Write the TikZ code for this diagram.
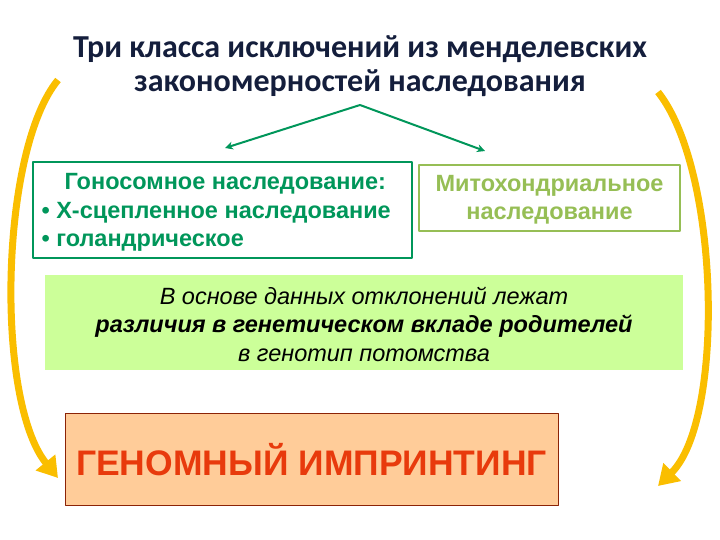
\documentclass[tikz,border=0pt]{standalone}
\usepackage{fontspec}
\setmainfont{Liberation Sans}
\newfontfamily\titlefont{Carlito}
\usetikzlibrary{arrows.meta}
\definecolor{darkgreen}{RGB}{0,150,90}
\definecolor{lightgreen}{RGB}{150,190,85}
\definecolor{palegreen}{RGB}{204,255,153}
\definecolor{peach}{RGB}{255,204,153}
\definecolor{redorange}{RGB}{232,58,12}
\definecolor{gold}{RGB}{250,190,0}
\definecolor{navy}{RGB}{20,30,60}
\tikzset{
  goldarrow/.style={gold, line width=7pt, -{Triangle[width=24pt,length=20pt]}},
  greenarrow/.style={darkgreen, line width=2pt, -{Stealth[length=8pt,width=8pt]}},
}
\begin{document}
\begin{tikzpicture}[x=1pt, y=-1pt, line join=round]
\useasboundingbox (0,0) rectangle (720,540);
\node[align=center, text=navy, font=\titlefont\bfseries\fontsize{32}{34}\selectfont] (title) at (360,66)
  {Три класса исключений из менделевских\\закономерностей наследования};
\coordinate (apex) at (360,105);
\coordinate (leftend) at (225,148);
\coordinate (rightend) at (485,151);
\draw[greenarrow] (apex) -- (leftend);
\draw[greenarrow] (apex) -- (rightend);
% boxes
\draw[darkgreen, line width=2pt] (33,162) rectangle (412,258);
\node[darkgreen, font=\bfseries\fontsize{23.5}{28.5}\selectfont, align=left, anchor=north west] (gono) at (38,170)
  {\hspace*{23pt}Гоносомное наследование:\\• Х-сцепленное наследование\\• голандрическое};
\draw[lightgreen, line width=1.5pt] (419,165) rectangle (680,231);
\node[lightgreen, font=\bfseries\fontsize{23.5}{28}\selectfont, align=center] (mito) at (549.5,200)
  {Митохондриальное\\наследование};
\fill[palegreen] (45,275) rectangle (683,370);
\node[align=center, font=\itshape\fontsize{23.5}{28.5}\selectfont] (basis) at (364,324)
  {В основе данных отклонений лежат\\\textbf{различия в генетическом вкладе родителей}\\в генотип потомства};
\draw[fill=peach, draw=redorange!60!black, line width=1pt] (65,413) rectangle (558,505);
\node[redorange, font=\bfseries\fontsize{35.5}{40}\selectfont] (imprint) at (311.5,460)
  {ГЕНОМНЫЙ ИМПРИНТИНГ};
% curved arrows
\coordinate (ltop) at (58,80);
\coordinate (lbot) at (58,478);
\coordinate (rtop) at (658,92);
\coordinate (rbot) at (658,486);
\draw[goldarrow] (ltop) .. controls (0,150) and (-5,400) .. (lbot);
\draw[goldarrow] (rtop) .. controls (720,170) and (725,420) .. (rbot);
\end{tikzpicture}
\end{document}
